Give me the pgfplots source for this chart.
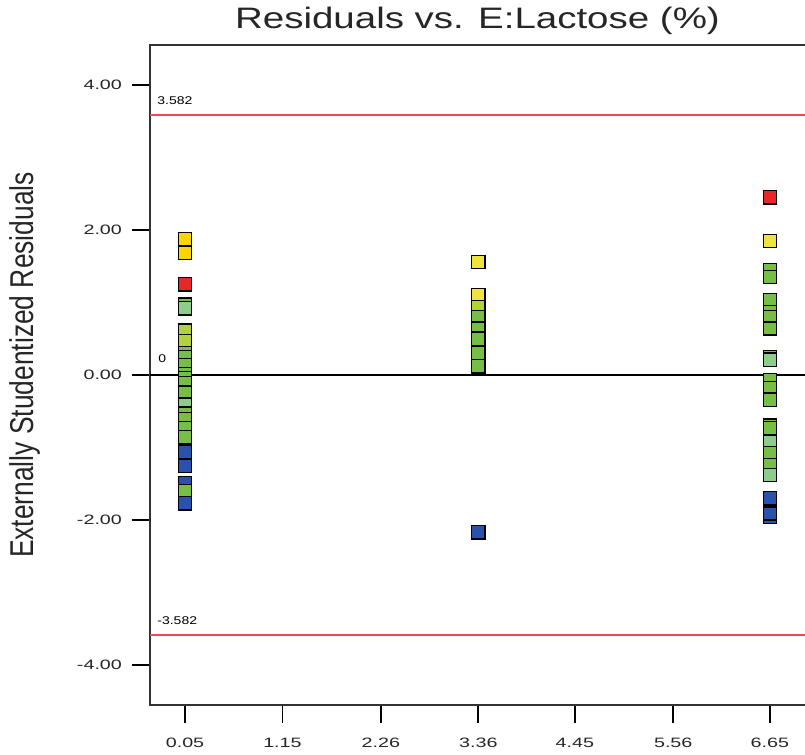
\documentclass[border=0pt]{standalone}
\usepackage{pgfplots}
\pgfplotsset{compat=1.18}
\usepackage{fontspec}
\setmainfont{Liberation Sans}
% widened faces for the labels
\newfontfamily\tickfont[FakeStretch=1.45]{Liberation Sans}
\newfontfamily\titlefont[FakeStretch=1.3]{Liberation Sans}
\newfontfamily\labelfont[FakeStretch=0.8]{Liberation Sans}
\newfontfamily\notefont[FakeStretch=1.25]{Liberation Sans}

% point colours (coded by response level)
\definecolor{cyel}{RGB}{252,212,0}
\definecolor{cyel2}{RGB}{238,228,60}
\definecolor{cred}{RGB}{232,40,40}
\definecolor{clgr}{RGB}{140,205,140}
\definecolor{cygr}{RGB}{178,210,60}
\definecolor{cgrn}{RGB}{118,190,70}
\definecolor{cblu}{RGB}{40,82,172}
\definecolor{limred}{RGB}{236,72,82}

\begin{document}
\begin{tikzpicture}
\begin{axis}[
  at={(75pt,25pt)}, anchor=south west,
  scale only axis,
  width=332.5pt, height=330pt,
  xmin=-0.345, xmax=7.16,
  ymin=-4.55, ymax=4.55,
  axis line style={line width=1pt, black!80},
  tick align=outside,
  xtick pos=left, ytick pos=left,
  major tick length=9pt,
  tick style={line width=0.9pt, black},
  xtick={0.05,1.15,2.26,3.36,4.45,5.56,6.65},
  xticklabels={0.05,1.15,2.26,3.36,4.45,5.56,6.65},
  ytick={-4,-2,0,2,4},
  yticklabels={-4.00,-2.00,0.00,2.00,4.00},
  /pgf/number format/assume math mode=true,
  ticklabel style={font=\tickfont\fontsize{6.8}{8}\selectfont, text=black!85},
  xticklabel style={yshift=-4pt},
  yticklabel style={xshift=-1.5pt},
  ylabel={Externally Studentized Residuals},
  ylabel style={at={(axis description cs:0,0.5)}, anchor=center,
                yshift=62.5pt, xshift=5pt,
                font=\labelfont\fontsize{16.5}{18}\selectfont, text=black!85},
  title={Residuals vs. E:Lactose (\%)},
  title style={at={(axis description cs:0.5,1)}, anchor=base,
               yshift=2.5pt, xshift=-2.5pt,
               font=\titlefont\fontsize{14.8}{17}\selectfont, text=black!85},
  clip=false,
]
% reference lines
\addplot[limred, line width=1pt] coordinates {(-0.345,3.582) (7.16,3.582)};
\addplot[limred, line width=1pt] coordinates {(-0.345,-3.582) (7.16,-3.582)};
\addplot[black, line width=0.9pt] coordinates {(-0.345,0) (7.16,0)};

\node[anchor=south west, font=\notefont\fontsize{5.6}{6}\selectfont, inner sep=0pt,
      xshift=3.5pt, yshift=5pt] at (axis cs:-0.345,3.582) {3.582};
\node[anchor=south west, font=\notefont\fontsize{5.6}{6}\selectfont, inner sep=0pt,
      xshift=3.5pt, yshift=5pt] at (axis cs:-0.345,-3.582) {-3.582};
\node[anchor=south west, font=\notefont\fontsize{5.6}{6}\selectfont, inner sep=0pt,
      xshift=4pt, yshift=6pt] at (axis cs:-0.345,0) {0};

% residuals
\addplot[
  scatter, only marks,
  mark=square*, mark size=3.3pt,
  point meta=explicit symbolic,
  scatter/classes={
    y={mark=square*, draw=black, line width=0.7pt, fill=cyel},
    w={mark=square*, draw=black, line width=0.7pt, fill=cyel2},
    r={mark=square*, draw=black, line width=0.7pt, fill=cred},
    l={mark=square*, draw=black, line width=0.7pt, fill=clgr},
    k={mark=square*, draw=black, line width=0.7pt, fill=cygr},
    g={mark=square*, draw=black, line width=0.7pt, fill=cgrn},
    b={mark=square*, draw=black, line width=0.7pt, fill=cblu}},
] table[meta=c] {
x     y      c
0.05  1.87   y
0.05  1.68   y
0.05  1.25   r
0.05  0.97   g
0.05  0.92   l
0.05  0.61   k
0.05  0.47   k
0.05  0.30   g
0.05  0.25   g
0.05  0.14   g
0.05  0.01   g
0.05  -0.04  g
0.05  -0.11  g
0.05  -0.24  g
0.05  -0.41  l
0.05  -0.53  g
0.05  -0.61  g
0.05  -0.73  g
0.05  -0.86  g
0.05  -1.06  b
0.05  -1.25  b
0.05  -1.49  b
0.05  -1.60  g
0.05  -1.77  b
3.36  1.56   w
3.36  1.10   w
3.36  0.94   k
3.36  0.80   g
3.36  0.64   g
3.36  0.50   g
3.36  0.30   g
3.36  0.12   g
3.36  -2.17  b
6.65  2.45   r
6.65  1.85   w
6.65  1.45   g
6.65  1.35   g
6.65  1.03   g
6.65  0.87   g
6.65  0.80   g
6.65  0.64   g
6.65  0.25   g
6.65  0.21   l
6.65  -0.07  g
6.65  -0.18  g
6.65  -0.34  g
6.65  -0.70  g
6.65  -0.73  g
6.65  -0.92  l
6.65  -1.08  g
6.65  -1.24  g
6.65  -1.38  l
6.65  -1.70  b
6.65  -1.96  b
6.65  -1.91  b
};
\end{axis}
\pgfresetboundingbox
\path[use as bounding box] (0,0) rectangle (402.5pt,377.5pt);
\end{tikzpicture}
\end{document}
